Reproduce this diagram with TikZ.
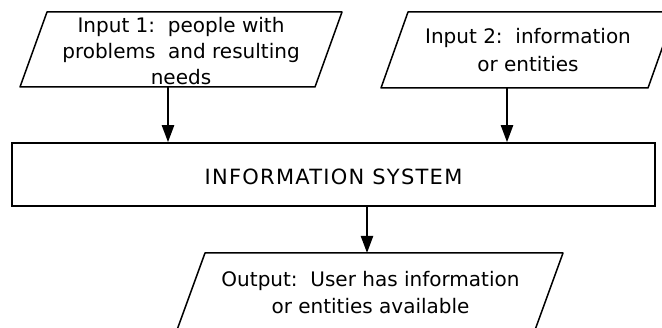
\documentclass[tikz,border=0pt]{standalone}
\usepackage{fontspec}
\setmainfont{DejaVu Sans}
\newfontfamily\widecaps[LetterSpace=6]{DejaVu Sans}
\usetikzlibrary{arrows.meta}
\tikzset{
  iobox/.style={draw, line width=1.5pt, line join=round},
  sysbox/.style={draw, line width=1.5pt, minimum width=643pt, minimum height=63pt, inner sep=0},
  iotext/.style={align=center, inner sep=0, font=\fontsize{20}{27}\selectfont},
  arrow/.style={->,>={Triangle[length=17pt,width=12pt]}, line width=2.2pt}
}
\begin{document}
\begin{tikzpicture}[x=1pt,y=1pt]
  \clip (0,0) rectangle (662,-328);

  % inputs
  \draw [iobox] (20,-87) -- (47,-12) -- (342,-12) -- (315,-87) -- cycle;
  \node[iotext] (in1) at (181,-51.5) {Input 1:\ \ people with\\[-1pt]problems\ \ and resulting\\[-1pt]needs};
  \coordinate (in1b) at (168,-87);

  \draw [iobox] (381,-88) -- (408,-12) -- (675,-12) -- (648,-88) -- cycle;
  \node[iotext] (in2) at (528,-50) {Input 2:\ \ information\\[1pt]or entities};
  \coordinate (in2b) at (507,-88);

  % system
  \node[sysbox] (sys) at (333.5,-174.5) {};
  \node[inner sep=0, font=\fontsize{21}{25}\widecaps] (syst) at ([yshift=-2pt]sys.center) {INFORMATION SYSTEM};

  % output
  \draw [iobox] (177,-330) -- (205,-253) -- (563,-253) -- (535,-330) -- cycle;
  \node[iotext] (out) at (370.5,-292.5) {Output:\ \ User has information\\or entities available};
  \coordinate (outt) at (367,-253);

  \draw [arrow] (in1b) -- (in1b |- sys.north);
  \draw [arrow] (in2b) -- (in2b |- sys.north);
  \draw [arrow] (outt |- sys.south) -- (outt);
\end{tikzpicture}
\end{document}
